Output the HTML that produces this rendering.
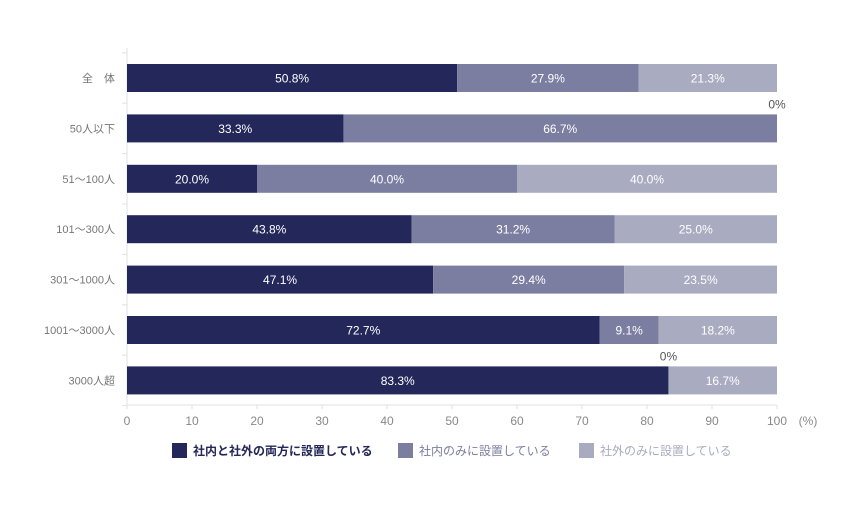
<!DOCTYPE html>
<html><head><meta charset="utf-8"><style>
body{margin:0;background:#fff;}
svg{display:block;font-family:"Liberation Sans","Noto Sans CJK JP",sans-serif;}
</style></head><body>
<svg id="chart" width="860" height="510"></svg>
<script>
const categories=["全　体","50人以下","51～100人","101～300人","301～1000人","1001～3000人","3000人超"];
const seriesBoth=[50.8,33.3,20.0,43.8,47.1,72.7,83.3];
const seriesInside=[27.9,66.7,40.0,31.2,29.4,9.1,0];
const seriesOutside=[21.3,0,40.0,25.0,23.5,18.2,16.7];
const seriesNames=["社内と社外の両方に設置している","社内のみに設置している","社外のみに設置している"];
const ticks=[0,10,20,30,40,50,60,70,80,90,100];
const colors=["#23275a","#7b7ea0","#a9abc1"];
const NS="http://www.w3.org/2000/svg";
const svg=document.getElementById('chart');
const x0=127,x1=777,yTop=52,rowH=50.4,barH=28;
const xs=v=>x0+(x1-x0)*v/100;
const yc=i=>78+i*rowH;
function mk(t,a,txt){const e=document.createElementNS(NS,t);for(const k in a)e.setAttribute(k,a[k]);if(txt!==undefined)e.textContent=txt;svg.appendChild(e);return e;}
let e=mk('line',{x1:x0,y1:48,x2:x0,y2:405,stroke:'#e2e2e2','stroke-width':1});

e=mk('line',{x1:x0,y1:405,x2:x1,y2:405,stroke:'#e2e2e2','stroke-width':1});

for(let i=0;i<=categories.length;i++){
 const y=yc(i)-rowH/2;
 e=mk('line',{x1:x0-5,y1:y,x2:x0,y2:y,stroke:'#e2e2e2'});
 
}
ticks.forEach(t=>{
 e=mk('line',{x1:xs(t),y1:405,x2:xs(t),y2:409,stroke:'#e2e2e2'});
 
 e=mk('text',{x:xs(t),y:425,'text-anchor':'middle','font-size':12,fill:'#888'},String(t));
 
});
e=mk('text',{x:808,y:425,'text-anchor':'middle','font-size':12,fill:'#888'},'(%)');

const all=[seriesBoth,seriesInside,seriesOutside];
categories.forEach((c,i)=>{
 e=mk('text',{x:115,y:yc(i)+4,'text-anchor':'end','font-size':11,fill:'#777'},c);
 
 let acc=0;
 all.forEach((s,k)=>{
  const v=s[i];
  if(v>0){
   e=mk('rect',{x:xs(acc),y:yc(i)-barH/2,width:xs(acc+v)-xs(acc),height:barH,fill:colors[k]});
   
   e=mk('text',{x:(xs(acc)+xs(acc+v))/2,y:yc(i)+4.5,'text-anchor':'middle','font-size':12,fill:'#fff'},v.toFixed(1)+'%');
   
  }else{
   e=mk('text',{x:xs(acc),y:yc(i)-barH/2-6,'text-anchor':'middle','font-size':12,fill:'#555'},'0%');
   
  }
  acc+=v;
 });
});
const legX=[172,398,579];
seriesNames.forEach((n,k)=>{
 e=mk('rect',{x:legX[k],y:443,width:15,height:15,fill:colors[k]});
 
 e=mk('text',{x:legX[k]+21,y:455,'font-size':12,'font-weight':k===0?'bold':'normal',fill:k===0?'#23275a':colors[k]},n);
 
});
</script>
</body></html>
